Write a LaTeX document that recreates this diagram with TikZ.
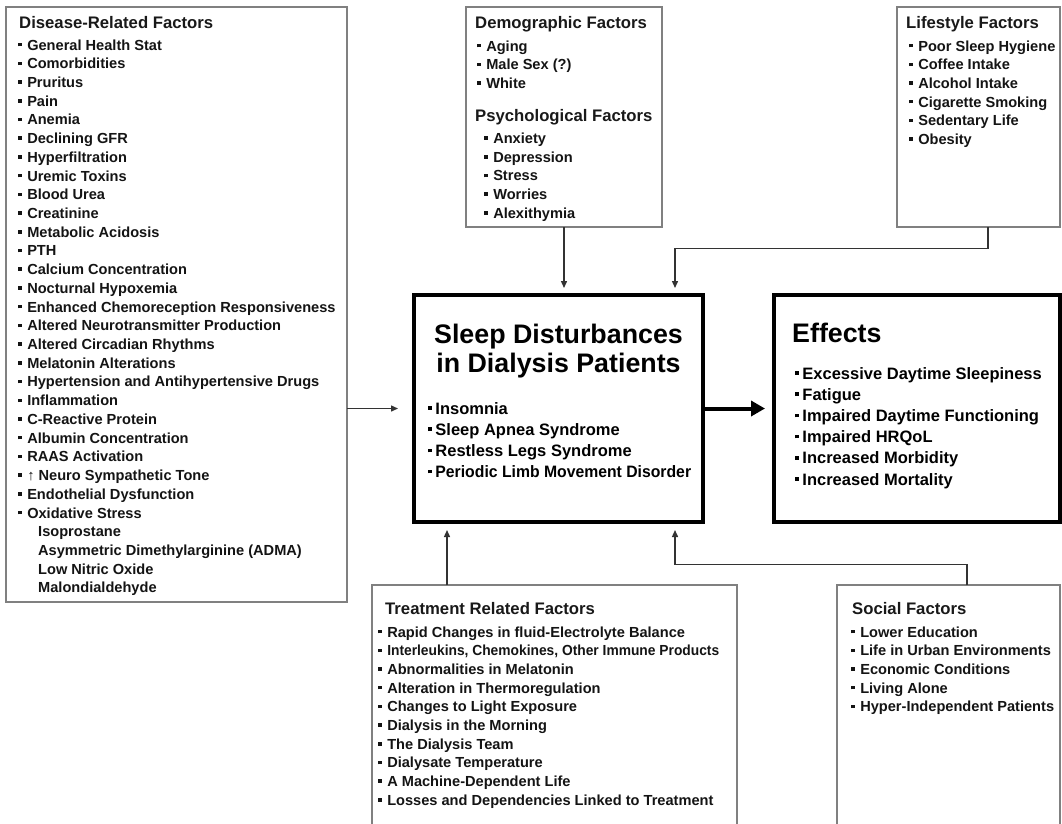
\documentclass[tikz,border=0pt]{standalone}
\usepackage{fontspec}
\usepackage{graphicx}
\setmainfont{Liberation Sans}
\usetikzlibrary{arrows.meta}
\newcommand\bx{\rule[0.25em]{0.24em}{0.24em}\hspace{0.38em}}
\newcommand\bz{\rule[0.25em]{0.22em}{0.22em}\hspace{0.22em}}
\tikzset{
  fbox/.style={draw=black!50, line width=1.3pt, fill=white, anchor=north west, inner sep=0pt, outer sep=0pt},
  mbox/.style={draw=black, line width=3.3pt, fill=white, anchor=north west, inner sep=0pt, outer sep=0pt},
  ttl/.style={anchor=base west, inner sep=0pt, text=black!90, font=\fontsize{16.7}{20}\selectfont\bfseries},
  itm/.style={anchor=base west, inner sep=0pt, text=black!92, font=\fontsize{14.6}{18}\selectfont\bfseries},
  bigttl/.style={anchor=base, inner sep=0pt, text=black, font=\fontsize{26.8}{30}\selectfont\bfseries},
  bigitm/.style={anchor=base west, inner sep=0pt, text=black, font=\fontsize{16.5}{20}\selectfont\bfseries},
  conn/.style={draw=black!80, line width=1.4pt, -{Triangle[length=7pt,width=6pt]}},
  thick arrow/.style={draw=black, line width=4pt, -{Triangle[length=14pt,width=15pt]}}
}
\begin{document}
\begin{tikzpicture}[x=1pt,y=-1pt]
\useasboundingbox (0,0) rectangle (1062,823);
\fill[white] (0,0) rectangle (1062,823);
\clip (0,0) rectangle (1062,823);

% ---------- boxes ----------
\node[fbox, minimum width=341pt, minimum height=595pt] (dis) at (6,7) {};
\node[fbox, minimum width=196pt, minimum height=220pt] (demo) at (466,7) {};
\node[fbox, minimum width=163pt, minimum height=220pt] (life) at (897,7) {};
\node[mbox, minimum width=289pt, minimum height=227pt] (cen) at (414,295) {};
\node[mbox, minimum width=286pt, minimum height=227pt] (eff) at (774,295) {};
\node[fbox, minimum width=365pt, minimum height=260pt] (trt) at (372,585) {};
\node[fbox, minimum width=223pt, minimum height=260pt] (soc) at (837,585) {};

% ---------- disease-related ----------
\node[ttl] (disT) at (19,28) {Disease-Related Factors};
\foreach \t [count=\i from 0] in {General Health Stat, Comorbidities, Pruritus, Pain, Anemia,
  Declining GFR, Hyperfiltration, Uremic Toxins, Blood Urea, Creatinine, Metabolic Acidosis,
  PTH, Calcium Concentration, Nocturnal Hypoxemia, Enhanced Chemoreception Responsiveness,
  Altered Neurotransmitter Production, Altered Circadian Rhythms, Melatonin Alterations,
  Hypertension and Antihypertensive Drugs, Inflammation, C-Reactive Protein,
  Albumin Concentration, RAAS Activation, {↑ Neuro Sympathetic Tone},
  Endothelial Dysfunction, Oxidative Stress}
  \node[itm] (dis\i) at (18,50+\i*18.72) {\bx\t};
\foreach \t [count=\i from 26] in {Isoprostane, Asymmetric Dimethylarginine (ADMA),
  Low Nitric Oxide, Malondialdehyde}
  \node[itm] (dis\i) at (38,50+\i*18.72) {\t};

% ---------- demographic / psychological ----------
\node[ttl] (demoT) at (475,28) {Demographic Factors};
\foreach \t [count=\i from 0] in {Aging, Male Sex (?), White}
  \node[itm] (demo\i) at (477,51+\i*18.7) {\bx\t};
\node[ttl] (psyT) at (475,121) {Psychological Factors};
\foreach \t [count=\i from 0] in {Anxiety, Depression, Stress, Worries, Alexithymia}
  \node[itm] (psy\i) at (484,143.5+\i*18.7) {\bx\t};

% ---------- lifestyle ----------
\node[ttl] (lifeT) at (906,28) {Lifestyle Factors};
\foreach \t [count=\i from 0] in {Poor Sleep Hygiene, Coffee Intake, Alcohol Intake,
  Cigarette Smoking, Sedentary Life, Obesity}
  \node[itm] (life\i) at (909,51+\i*18.7) {\bx\t};

% ---------- central ----------
\node[bigttl] (cenT1) at (558.5,343.5) {Sleep Disturbances};
\node[bigttl] (cenT2) at (558.5,372) {in Dialysis Patients};
\foreach \t [count=\i from 0] in {Insomnia, Sleep Apnea Syndrome, Restless Legs Syndrome}
  \node[bigitm] (cen\i) at (428,414+\i*21.2) {\bz\t};
\node[bigitm] (cen3) at (428,414+3*21.2) {\bz\scalebox{0.955}[1]{Periodic Limb Movement Disorder}};

% ---------- effects ----------
\node[bigttl, anchor=base west] (effT) at (792,342.5) {Effects};
\foreach \t [count=\i from 0] in {Excessive Daytime Sleepiness, Fatigue,
  Impaired Daytime Functioning, Impaired HRQoL, Increased Morbidity, Increased Mortality}
  \node[bigitm] (eff\i) at (795,379+\i*21.2) {\bz\t};

% ---------- treatment ----------
\node[ttl] (trtT) at (385,614) {Treatment Related Factors};
\foreach \t [count=\i from 0] in {Rapid Changes in fluid-Electrolyte Balance,
  {\scalebox{0.945}[1]{Interleukins, Chemokines, Other Immune Products}}, Abnormalities in Melatonin,
  Alteration in Thermoregulation, Changes to Light Exposure, Dialysis in the Morning,
  The Dialysis Team, Dialysate Temperature, A Machine-Dependent Life,
  Losses and Dependencies Linked to Treatment}
  \node[itm] (trt\i) at (378,637+\i*18.7) {\bx\t};

% ---------- social ----------
\node[ttl] (socT) at (852,614) {Social Factors};
\foreach \t [count=\i from 0] in {Lower Education, Life in Urban Environments,
  Economic Conditions, Living Alone, Hyper-Independent Patients}
  \node[itm] (soc\i) at (851,637+\i*18.7) {\bx\t};

% ---------- connectors ----------
\coordinate (lifeDrop) at (988,0);
\coordinate (topBend) at (675,248.5);
\coordinate (trtX) at (447,0);
\coordinate (socDrop) at (967,0);
\coordinate (botBend) at (675,564.5);

\draw[conn] (dis.east |- cen.west) -- ([xshift=-16pt]cen.west);
\draw[conn] (demo.south) -- ([yshift=7pt]cen.north -| demo.south);
\draw[conn] (life.south -| lifeDrop) |- (topBend) -- ([yshift=7pt]cen.north -| topBend);
\draw[conn] (trt.north -| trtX) -- ([yshift=-8pt]cen.south -| trtX);
\draw[conn] (soc.north -| socDrop) |- (botBend) -- ([yshift=-8pt]cen.south -| botBend);
\draw[thick arrow] (cen.east) -- ([xshift=-9pt]eff.west);
\end{tikzpicture}
\end{document}
